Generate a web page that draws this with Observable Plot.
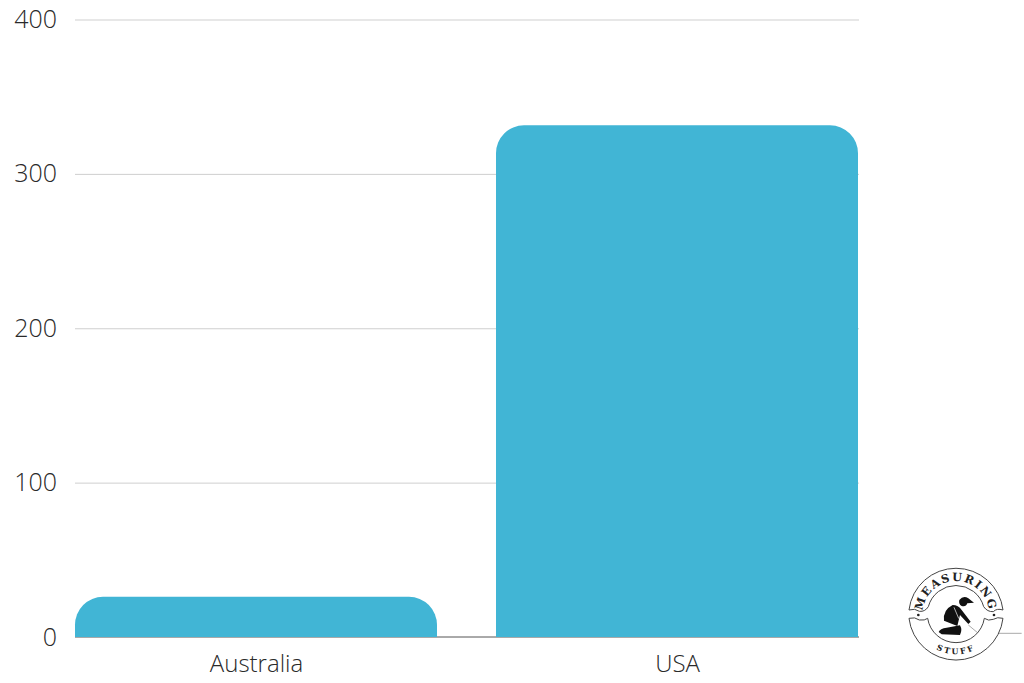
<!DOCTYPE html>
<html><head><meta charset="utf-8">
<script src="https://cdn.jsdelivr.net/npm/d3@7"></script>
<script src="https://cdn.jsdelivr.net/npm/@observablehq/plot@0.6"></script>
<style>
html,body{margin:0;padding:0;background:#fff;}
#wrap{position:relative;width:1024px;height:683px;overflow:hidden;}
#wrap svg{position:absolute;left:0;top:0;}
</style></head><body><div id="wrap"></div>
<script>
const countries = ["Australia", "USA"];
const heights = [26, 331.5];
const yTicks = [0, 100, 200, 300, 400];
const rows = countries.map((c, i) => ({country: c, value: heights[i]}));

const chart = Plot.plot({
  width: 1024, height: 683,
  marginTop: 19.5, marginBottom: 46, marginLeft: 75, marginRight: 165,
  style: {background: "transparent", fontFamily: "'Open Sans', sans-serif", overflow: "visible"},
  x: {domain: countries, paddingInner: 0.14, paddingOuter: 0, label: null, axis: null},
  y: {domain: [0, 400], label: null, axis: null},
  marks: [
    Plot.ruleY(yTicks.filter(d => d > 0), {stroke: "#cfcfcf", strokeWidth: 1}),
    Plot.ruleY([0], {stroke: "#555555", strokeWidth: 1, dy: -0.5}),
    Plot.barY(rows, {x: "country", y: "value", fill: "#41b5d5", ry1: 28}),
    Plot.axisY({ticks: yTicks, tickSize: 0, tickPadding: 0, dx: -18.5, label: null, fontSize: 25, fontWeight: 300, fill: "#2a2a2a", textAnchor: "end", tickFormat: d => String(d)}),
    Plot.axisX({tickSize: 0, tickPadding: 0, dy: 17.5, label: null, fontSize: 24, fontWeight: 300, fill: "#2a2a2a"})
  ]
});
document.getElementById("wrap").appendChild(chart);

// Logo badge (decoration, not data), drawn in a 3x local space anchored at the badge corner
const ns = "http://www.w3.org/2000/svg";
const logo = `
<svg xmlns="${ns}" width="1024" height="683" viewBox="0 0 1024 683" style="pointer-events:none">
 <g transform="translate(880 550) scale(0.3333)">
  <defs>
    <path id="arcTop" d="M 128 193 A 100 100 0 0 1 328 193"/>
    <path id="arcBot" d="M 108 193 A 120 120 0 0 0 348 193"/>
  </defs>
  <path d="M 265 225 L 295 250 L 425 250" fill="none" stroke="#aaa" stroke-width="3"/>
  <g fill="#fff" stroke="#444" stroke-width="3">
    <path d="M 87 180 A 142 142 0 0 1 369 180 Q 350 174 340 185 Q 322 186 311 170 A 86 86 0 0 0 145 170 Q 135 186 118 184 Q 105 174 87 180 Z"/>
    <path d="M 87 205 Q 105 200 118 210 Q 135 212 143 205 A 86 86 0 0 0 313 205 Q 325 214 340 208 Q 352 200 369 205 A 142 142 0 0 1 87 205 Z"/>
  </g>
  <circle cx="115" cy="195" r="4" fill="#222"/>
  <circle cx="342" cy="195" r="4" fill="#222"/>
  <text font-family="'DejaVu Serif',serif" font-weight="700" font-size="34" letter-spacing="5" fill="#222"><textPath href="#arcTop" startOffset="50%" text-anchor="middle">MEASURING</textPath></text>
  <text font-family="'DejaVu Serif',serif" font-weight="700" font-size="24" letter-spacing="7" fill="#222"><textPath href="#arcBot" startOffset="50%" text-anchor="middle">STUFF</textPath></text>
  <g fill="#111">
    <path d="M 238 150 Q 250 135 265 145 L 282 158 L 262 160 Q 258 172 245 168 Q 235 162 238 150 Z"/>
    <path d="M 218 165 Q 235 165 245 180 L 272 215 L 265 222 L 240 195 L 232 228 L 192 212 Q 188 180 218 165 Z"/>
    <path d="M 176 246 Q 180 235 200 233 L 240 226 Q 248 240 240 255 L 185 253 Z"/>
  </g>
  <path d="M 222 172 L 236 205 L 262 222" fill="none" stroke="#fff" stroke-width="2"/>
 </g>
</svg>`;
document.getElementById("wrap").insertAdjacentHTML("beforeend", logo);
</script></body></html>
